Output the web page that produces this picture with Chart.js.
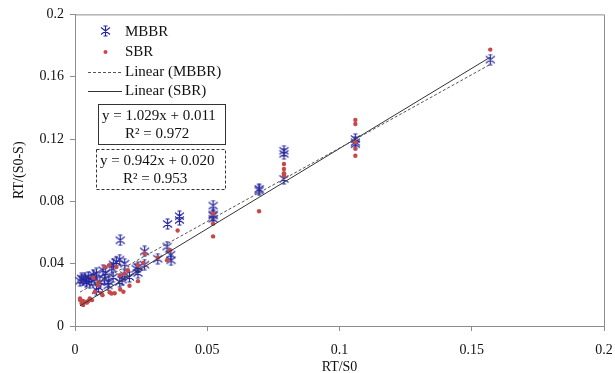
<!DOCTYPE html>
<html>
<head>
<meta charset="utf-8">
<script src="https://cdn.jsdelivr.net/npm/chart.js@4/dist/chart.umd.min.js"></script>
<style>
  html, body { margin: 0; padding: 0; background: #fff; }
  #wrap { width: 615px; height: 373px; position: relative; }
</style>
</head>
<body>
<div id="wrap"><canvas id="c" width="615" height="373"></canvas></div>
<script>
// MBBR observations: RT/S0 vs RT/(S0-S)
const mbbrX = [0.157, 0.106, 0.106, 0.106, 0.079, 0.079, 0.079, 0.0696, 0.0696, 0.0522,
  0.0522, 0.0522, 0.0522, 0.0395, 0.0395, 0.035, 0.0348, 0.0362, 0.0363, 0.0313,
  0.0263, 0.0263, 0.0238, 0.0238, 0.0231, 0.0206, 0.0171, 0.0169, 0.0156, 0.0188,
  0.0188, 0.0169, 0.0128, 0.0106, 0.0116, 0.0081, 0.0081, 0.0094, 0.0063, 0.005,
  0.0031, 0.0025, 0.0043, 0.0038, 0.0056, 0.0075, 0.0139, 0.0145, 0.0089, 0.0111,
  0.0019, 0.0069, 0.0144, 0.0178, 0.0125];
const mbbrY = [0.171, 0.1167, 0.118, 0.120, 0.1125, 0.1105, 0.0944, 0.088, 0.087, 0.0773,
  0.0709, 0.0688, 0.0716, 0.0705, 0.068, 0.0655, 0.051, 0.0458, 0.0422, 0.0432,
  0.0479, 0.0394, 0.0379, 0.034, 0.0368, 0.0315, 0.055, 0.0426, 0.0411, 0.040,
  0.0326, 0.0283, 0.0283, 0.0358, 0.034, 0.0337, 0.023, 0.0283, 0.0294, 0.0315,
  0.0294, 0.0305, 0.0283, 0.031, 0.0275, 0.0305, 0.037, 0.0395, 0.025, 0.030,
  0.029, 0.0326, 0.0315, 0.0298, 0.026];

// SBR observations
const sbrX = [0.157, 0.106, 0.106, 0.106, 0.106, 0.106, 0.079, 0.079, 0.079, 0.079,
  0.0696, 0.0522, 0.0522, 0.0522, 0.0388, 0.0359, 0.0348, 0.0313, 0.0263, 0.0259,
  0.0238, 0.0206, 0.0171, 0.0188, 0.020, 0.0156, 0.0129, 0.0131, 0.0138, 0.0104,
  0.0075, 0.0056, 0.0038, 0.0025, 0.0019, 0.0031, 0.0088, 0.0113, 0.0069, 0.0045,
  0.0050, 0.0064, 0.0183, 0.017, 0.0089, 0.0020, 0.0150, 0.0238, 0.0100, 0.0030];
const sbrY = [0.1774, 0.1323, 0.1297, 0.118, 0.1137, 0.1093, 0.104, 0.1008, 0.098, 0.0965,
  0.0737, 0.072, 0.0656, 0.0575, 0.0613, 0.0486, 0.0422, 0.044, 0.0465, 0.0405,
  0.0288, 0.0258, 0.0234, 0.0337, 0.0358, 0.0379, 0.039, 0.0217, 0.0209, 0.0198,
  0.0219, 0.0177, 0.0155, 0.0145, 0.0177, 0.0134, 0.0262, 0.0379, 0.031, 0.015,
  0.016, 0.0166, 0.022, 0.0326, 0.0283, 0.0166, 0.021, 0.039, 0.021, 0.016];

// Linear trend coefficients and R² as printed in the equation boxes
const seriesNames = ['MBBR', 'SBR'];
const slopes = [0.942, 1.029];
const intercepts = [0.020, 0.011];
const r2 = [0.953, 0.972];

const xTicks = [0, 0.05, 0.1, 0.15, 0.2];
const yTicks = [0, 0.04, 0.08, 0.12, 0.16, 0.2];

const FONT = '"Liberation Serif", "Times New Roman", serif';
const BLUE = '#24249c';
const RED = '#c84848';
const AXIS = '#8c8c8c';

function pts(xs, ys) { return xs.map((x, i) => ({ x: x, y: ys[i] })); }
function trend(xs, k) {
  const lo = Math.min(...xs), hi = Math.max(...xs);
  return [{ x: lo, y: slopes[k] * lo + intercepts[k] }, { x: hi, y: slopes[k] * hi + intercepts[k] }];
}

// asterisk marker: vertical bar crossed by an X, with short caps
function makeStar(w, h, color) {
  const c = document.createElement('canvas');
  c.width = w; c.height = h;
  const g = c.getContext('2d');
  g.strokeStyle = color; g.lineWidth = 1.1; g.lineCap = 'butt';
  const mx = w / 2, my = h / 2;
  g.beginPath();
  g.moveTo(mx, 1); g.lineTo(mx, h - 1);
  g.moveTo(1, my - 3.5); g.lineTo(w - 1, my + 3.5);
  g.moveTo(w - 1, my - 3.5); g.lineTo(1, my + 3.5);
  g.moveTo(mx - 2, 1); g.lineTo(mx + 2, 1);
  g.moveTo(mx - 2, h - 1); g.lineTo(mx + 2, h - 1);
  g.stroke();
  return c;
}
const star = makeStar(11, 12, BLUE);

const fmt = v => String(Number(v.toFixed(2)));

const overlay = {
  id: 'overlay',
  afterDraw(chart) {
    const ctx = chart.ctx, a = chart.chartArea;
    ctx.save();
    // plot frame (top and right)
    ctx.strokeStyle = AXIS; ctx.lineWidth = 1;
    ctx.beginPath();
    ctx.moveTo(a.left, a.top + 0.5); ctx.lineTo(a.right + 0.5, a.top + 0.5); ctx.lineTo(a.right + 0.5, a.bottom);
    ctx.stroke();

    // legend
    const lx = a.left + 13, tx = a.left + 50;
    ctx.font = '15px ' + FONT; ctx.fillStyle = '#111'; ctx.textBaseline = 'middle';
    ctx.drawImage(star, a.left + 25, 25);
    ctx.fillText(seriesNames[0], tx, 32);
    ctx.fillStyle = RED; ctx.beginPath(); ctx.arc(a.left + 30.5, 52, 2, 0, Math.PI * 2); ctx.fill();
    ctx.fillStyle = '#111';
    ctx.fillText(seriesNames[1], tx, 52);
    ctx.strokeStyle = '#555'; ctx.lineWidth = 1;
    ctx.setLineDash([3, 2]);
    ctx.beginPath(); ctx.moveTo(lx, 72.5); ctx.lineTo(lx + 34, 72.5); ctx.stroke();
    ctx.setLineDash([]);
    ctx.fillText('Linear (' + seriesNames[0] + ')', tx, 72);
    ctx.strokeStyle = '#333';
    ctx.beginPath(); ctx.moveTo(lx, 91.5); ctx.lineTo(lx + 34, 91.5); ctx.stroke();
    ctx.fillText('Linear (' + seriesNames[1] + ')', tx, 91);

    // equation boxes
    function eqBox(k, x, y, w, h, dashed) {
      ctx.strokeStyle = '#333'; ctx.lineWidth = 1;
      ctx.setLineDash(dashed ? [3, 2] : []);
      ctx.strokeRect(x + 0.5, y + 0.5, w, h);
      ctx.setLineDash([]);
      ctx.fillStyle = '#111'; ctx.textAlign = 'left';
      ctx.fillText('y = ' + slopes[k].toFixed(3) + 'x + ' + intercepts[k].toFixed(3), x + 4, y + 12);
      ctx.fillText('R² = ' + r2[k].toFixed(3), x + 27, y + 30);
    }
    eqBox(1, a.left + 23, 104, 127, 40, false);
    eqBox(0, a.left + 21, 149, 129, 40, true);
    ctx.restore();
  }
};

new Chart(document.getElementById('c'), {
  type: 'scatter',
  data: {
    datasets: [
      { label: 'Linear (MBBR)', data: trend(mbbrX, 0), showLine: true, pointRadius: 0,
        borderColor: '#555', borderWidth: 1, borderDash: [3, 2], fill: false },
      { label: 'Linear (SBR)', data: trend(sbrX, 1), showLine: true, pointRadius: 0,
        borderColor: '#333', borderWidth: 1, fill: false },
      { label: 'SBR', data: pts(sbrX, sbrY), pointStyle: 'circle', pointRadius: 2.2,
        backgroundColor: RED, borderColor: RED, borderWidth: 0 },
      { label: 'MBBR', data: pts(mbbrX, mbbrY), pointStyle: star, pointRadius: 5 }
    ]
  },
  options: {
    responsive: false,
    animation: false,
    events: [],
    layout: { padding: { left: 11, right: 0, top: 13, bottom: 0 } },
    plugins: { legend: { display: false }, tooltip: { enabled: false } },
    scales: {
      x: {
        type: 'linear', min: 0, max: 0.2,
        afterBuildTicks: s => { s.ticks = xTicks.map(v => ({ value: v })); },
        afterFit: s => { s.height = 47; s.paddingRight = 11; },
        border: { color: AXIS, width: 1 },
        grid: { drawOnChartArea: false, drawTicks: true, tickLength: 5, color: AXIS },
        ticks: { callback: v => fmt(v), color: '#111', font: { family: FONT, size: 14 }, padding: 11, maxRotation: 0 },
        title: { display: true, text: 'RT/S0', color: '#111', font: { family: FONT, size: 14 }, padding: { top: 0, bottom: -3 } }
      },
      y: {
        type: 'linear', min: 0, max: 0.2,
        afterBuildTicks: s => { s.ticks = yTicks.map(v => ({ value: v })); },
        afterFit: s => { s.width = 64; },
        border: { color: AXIS, width: 1 },
        grid: { drawOnChartArea: false, drawTicks: true, tickLength: 5, color: AXIS },
        ticks: { callback: v => fmt(v), color: '#111', font: { family: FONT, size: 14 }, padding: 6 },
        title: { display: true, text: 'RT/(S0-S)', color: '#111', font: { family: FONT, size: 14 }, padding: { top: 0, bottom: 4 } }
      }
    }
  },
  plugins: [overlay]
});
</script>
</body>
</html>
